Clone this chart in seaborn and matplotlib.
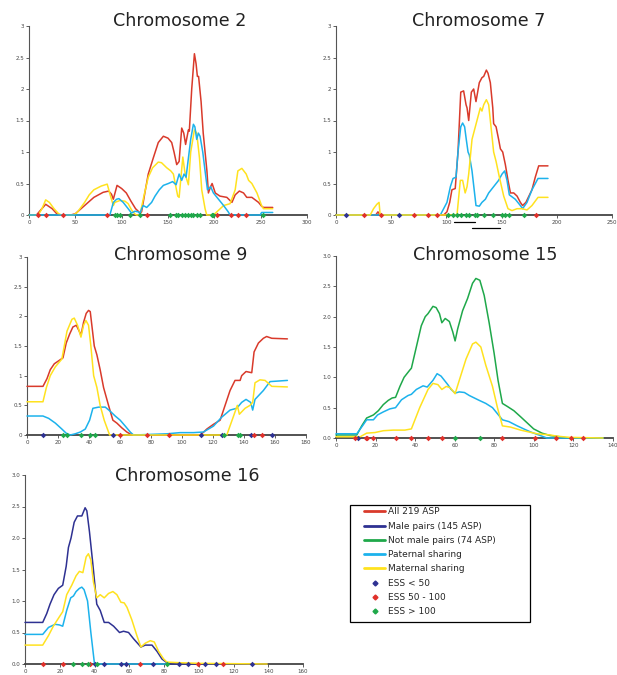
import numpy as np
import pandas as pd
import matplotlib
matplotlib.use('Agg')
import matplotlib.pyplot as plt
import seaborn as sns
from matplotlib.lines import Line2D
from matplotlib.patches import Rectangle

# cores das curvas
RED = '#d93a2b'
NAVY = '#2e3192'
GREEN = '#1fa84a'
CYAN = '#1cb2ec'
YELLOW = '#ffe21f'

# ---- Chromosome 2 ----
chr2_all = [(0, 0), (8, 0), (18, 0.17), (25, 0.1), (30, 0.02), (33, 0), (45, 0), (50, 0.02), (60, 0.15),
            (70, 0.28), (80, 0.36), (86, 0.38), (89, 0.33), (91, 0.25), (95, 0.47), (100, 0.42), (105, 0.35),
            (110, 0.22), (115, 0.1), (120, 0.03), (121.5, 0.05), (125, 0.35), (128.7, 0.65), (134, 0.9),
            (139.5, 1.15), (145, 1.25), (150, 1.22), (154, 1.15), (156.5, 1.0), (159.4, 0.8), (162, 0.85),
            (164.8, 1.38), (167, 1.3), (169, 1.12), (172, 1.35), (173, 1.33), (175.6, 2.0), (178.5, 2.56),
            (180.3, 2.4), (181.7, 2.2), (183, 2.2), (185.7, 1.8), (188, 1.3), (192, 0.7), (193.6, 0.35),
            (196, 0.45), (197.6, 0.5), (201, 0.35), (206, 0.3), (213.5, 0.28), (219, 0.2), (222.5, 0.32),
            (227, 0.38), (231.5, 0.35), (235, 0.28), (240.5, 0.28), (247.7, 0.2), (251, 0.14), (253, 0.12),
            (263, 0.12)]
chr2_mat = [(0, 0), (10, 0), (14, 0.1), (18, 0.24), (22, 0.2), (27, 0.1), (32, 0.02), (35, 0), (48, 0),
            (52, 0.04), (55, 0.1), (60, 0.2), (65, 0.32), (70, 0.4), (78, 0.46), (84.4, 0.49), (88, 0.3),
            (91, 0.15), (92.7, 0.2), (98, 0.23), (103.5, 0.22), (107, 0.18), (110.7, 0.08), (114, 0.02),
            (116, 0), (119.7, 0), (124, 0.3), (128.7, 0.6), (133.4, 0.75), (139.5, 0.84), (143, 0.83),
            (148.6, 0.75), (153, 0.7), (155.8, 0.65), (160.5, 0.3), (162, 0.28), (164, 0.6), (166, 0.92),
            (168, 0.7), (169.5, 0.6), (172, 0.48), (174.5, 1.0), (178.5, 1.35), (181, 1.3), (184, 0.9),
            (186.4, 0.4), (190, 0.1), (191.8, 0), (199, 0), (202.7, 0.05), (210, 0.15), (217, 0.18),
            (222.5, 0.4), (225.4, 0.7), (229.7, 0.74), (234.4, 0.65), (237, 0.55), (240.5, 0.5), (246, 0.35),
            (251, 0.15), (253, 0.1), (263, 0.1)]
chr2_pat = [(0, 0), (87.3, 0), (91, 0.2), (94.5, 0.25), (97, 0.26), (101.7, 0.2), (107, 0.1), (110.7, 0.03),
            (114.3, 0.06), (118, 0.05), (119.7, 0.02), (121.5, 0.1), (123.3, 0.15), (127, 0.12), (132.3, 0.2),
            (136, 0.3), (140.6, 0.4), (145, 0.47), (150.4, 0.5), (155, 0.53), (158.7, 0.48), (162, 0.65),
            (164.8, 0.55), (167.3, 0.65), (169.5, 0.6), (172, 0.9), (174.5, 1.2), (177.4, 1.44), (179, 1.4),
            (181, 1.2), (182.8, 1.3), (184.6, 1.25), (187.5, 1.0), (190, 0.7), (192.6, 0.4), (196, 0.45),
            (199, 0.35), (204.5, 0.25), (210, 0.15), (215, 0.05), (217, 0), (249.5, 0), (251, 0.04), (263, 0.04)]
chr2_ess_low = []
chr2_ess_mid = [10, 18, 37, 84, 127, 203, 218, 225, 234]
chr2_ess_high = [93, 95, 98, 109, 120, 152, 159, 161, 165, 168, 172, 174.5, 177, 181, 184.6, 197, 199, 253]

# ---- Chromosome 7 ----
chr7_all = [(0, 0), (36, 0), (38, 0.05), (40, 0), (97.5, 0), (100.5, 0.05), (103, 0.2), (105, 0.4), (108, 0.42),
            (110.5, 1.0), (113, 1.95), (115.6, 1.97), (117.8, 1.75), (118.7, 1.7), (120.2, 1.5), (122.6, 1.95),
            (124.7, 2.0), (126.8, 1.8), (129.8, 2.1), (132.2, 2.18), (133.8, 2.2), (136.2, 2.3), (137.7, 2.25),
            (139.8, 2.1), (142, 1.7), (142.8, 1.45), (145, 1.4), (147.3, 1.2), (148.9, 1.05), (151, 1.0),
            (153.4, 0.8), (155.8, 0.55), (158, 0.35), (161, 0.35), (164, 0.3), (167, 0.2), (169, 0.15),
            (172, 0.2), (177.5, 0.4), (180.5, 0.6), (183.6, 0.78), (192, 0.78)]
chr7_pat = [(0, 0), (94.5, 0), (97.5, 0.1), (100.5, 0.2), (103.6, 0.45), (106, 0.58), (108.7, 0.6), (110.5, 1.0),
            (113, 1.4), (114.7, 1.46), (116.5, 1.4), (118, 1.2), (119.6, 1.0), (120.8, 0.95), (123.2, 0.7),
            (126.8, 0.15), (129.8, 0.14), (132.2, 0.2), (135.3, 0.25), (138.3, 0.35), (142.8, 0.45),
            (147.3, 0.55), (150.4, 0.65), (152.8, 0.7), (154.9, 0.55), (157, 0.32), (162.4, 0.25), (167, 0.15),
            (169, 0.1), (173, 0.2), (177.5, 0.4), (183, 0.58), (192, 0.58)]
chr7_mat = [(0, 0), (31, 0), (34, 0.1), (37, 0.17), (39, 0.2), (40, 0), (109.6, 0), (112.6, 0.55), (114.7, 0.55),
            (117, 0.35), (118.7, 0.45), (120.2, 0.65), (123.2, 1.2), (126.2, 1.4), (130.7, 1.7), (132.2, 1.65),
            (133.8, 1.75), (136.2, 1.83), (138.3, 1.75), (139.8, 1.5), (142.8, 1.0), (145, 0.85), (148, 0.6),
            (151.9, 0.3), (155.8, 0.1), (159.4, 0.07), (164, 0.1), (168.5, 0.1), (173, 0.08), (177.5, 0.15),
            (183, 0.28), (192, 0.28)]
chr7_ess_low = [9, 57.4]
chr7_ess_mid = [25, 41, 71, 83, 91.5, 181.5]
chr7_ess_high = [101.5, 105.7, 109.6, 113.5, 117.8, 120.2, 126.2, 127.7, 133.8, 142, 150.4, 153.4, 157, 170]
chr7_bars = [(106.6, 126.2), (123, 148.9)]

# ---- Chromosome 9 ----
chr9_all = [(0, 0.82), (10.3, 0.82), (12.9, 0.95), (15, 1.1), (17.6, 1.2), (20.4, 1.25), (23.2, 1.3),
            (25.3, 1.55), (27.5, 1.7), (29.6, 1.82), (31.8, 1.85), (33.7, 1.75), (34.8, 1.68), (36.5, 1.9),
            (38.2, 2.05), (39.7, 2.1), (40.8, 2.08), (43.4, 1.5), (45.1, 1.35), (47.2, 1.1), (49.4, 0.8),
            (52.6, 0.5), (55.4, 0.25), (58, 0.2), (61.2, 0.12), (64.4, 0.05), (67.7, 0), (111.7, 0), (114, 0.05),
            (116, 0.1), (120.3, 0.18), (124.6, 0.25), (127.8, 0.5), (131, 0.75), (134.2, 0.92), (137.5, 0.92),
            (138.5, 1.0), (141.3, 1.07), (145, 1.05), (146.5, 1.4), (149.3, 1.55), (152.5, 1.63), (154.6, 1.66),
            (157.9, 1.63), (168, 1.62)]
chr9_mat = [(0, 0.56), (10.3, 0.56), (12.5, 0.8), (15, 1.0), (18.3, 1.15), (22.5, 1.28), (25.8, 1.75),
            (29, 1.95), (30.5, 1.97), (32.6, 1.85), (34.8, 1.65), (36.5, 1.85), (38, 1.93), (39.7, 1.85),
            (41.2, 1.5), (43, 1.0), (45.1, 0.8), (47.2, 0.5), (49.8, 0.25), (53.3, 0), (128.9, 0), (133, 0.3),
            (135.7, 0.5), (137, 0.35), (140.7, 0.45), (143.9, 0.5), (145.6, 0.55), (147.1, 0.88), (150.3, 0.93),
            (153.6, 0.92), (157.9, 0.82), (168, 0.81)]
chr9_pat = [(0, 0.32), (10.3, 0.32), (14, 0.28), (18.3, 0.2), (22.5, 0.1), (25.3, 0.03), (27.9, 0), (31.1, 0.02),
            (34.4, 0.05), (37.6, 0.1), (40.4, 0.25), (42.5, 0.45), (46.2, 0.47), (50.5, 0.47), (53.7, 0.4),
            (56.9, 0.32), (60.1, 0.25), (63.4, 0.15), (66.6, 0.05), (68.7, 0), (79.5, 0.01), (90.2, 0.02),
            (98.8, 0.04), (107.4, 0.04), (113.8, 0.05), (120.3, 0.15), (125.6, 0.3), (131, 0.42), (135.3, 0.45),
            (138.5, 0.55), (141.3, 0.6), (144.3, 0.55), (145.6, 0.42), (147.1, 0.6), (152.5, 0.75),
            (156.8, 0.9), (168, 0.92)]
chr9_ess_low = [10.3, 55.8, 112.3, 125.6, 144.3, 157.9]
chr9_ess_mid = [60.1, 77.3, 91.9, 146.5, 151.4]
chr9_ess_high = [23.2, 25.8, 34.8, 40.8, 43.6, 127.1, 136.4, 137.5]

# ---- Chromosome 15 ----
chr15_notmale = [(0, 0.05), (10.5, 0.05), (13, 0.2), (15.5, 0.33), (18.9, 0.38), (21.4, 0.45), (23.9, 0.55),
                 (26.4, 0.62), (28.4, 0.66), (30.1, 0.67), (32.3, 0.85), (34.4, 1.0), (37.3, 1.12), (38.1, 1.15),
                 (40.6, 1.5), (43.1, 1.85), (45.1, 2.0), (46.5, 2.05), (49, 2.17), (50.6, 2.15), (52.3, 2.05),
                 (53.5, 1.9), (55.2, 1.97), (57.3, 1.92), (59, 1.75), (60.2, 1.6), (61.5, 1.8), (64, 2.1),
                 (66.5, 2.3), (69, 2.55), (70.7, 2.63), (72.7, 2.6), (74.9, 2.35), (77.4, 1.9), (79.9, 1.4),
                 (81.9, 0.95), (84.1, 0.57), (86.6, 0.52), (89.9, 0.45), (93.3, 0.35), (96.6, 0.25), (99.9, 0.15),
                 (104.1, 0.08), (108.3, 0.04), (113.3, 0.02), (116.7, 0), (135, 0)]
chr15_pat = [(0, 0.07), (10.5, 0.07), (13.4, 0.2), (15.5, 0.3), (18.9, 0.3), (21, 0.38), (23.9, 0.43),
             (27.2, 0.48), (30.1, 0.5), (33.1, 0.63), (36.4, 0.7), (38.1, 0.72), (40.6, 0.8), (44, 0.86),
             (46.1, 0.84), (49, 0.95), (51.1, 1.06), (53.1, 1.02), (54.8, 0.95), (56.5, 0.88), (58.2, 0.8),
             (60.2, 0.74), (62.3, 0.76), (64.9, 0.75), (67.4, 0.7), (69.9, 0.66), (72.4, 0.62), (75.7, 0.57),
             (79.1, 0.5), (81.6, 0.4), (84.1, 0.3), (87.4, 0.27), (91.6, 0.2), (94.9, 0.15), (98.3, 0.1),
             (103.3, 0.04), (106.6, 0), (135, 0)]
chr15_mat = [(0, 0.02), (12.2, 0.02), (15.5, 0.08), (19.7, 0.09), (23.9, 0.12), (28.9, 0.13), (34.8, 0.13),
             (38.1, 0.15), (42.3, 0.5), (46.5, 0.8), (49, 0.9), (51.5, 0.88), (53.5, 0.8), (55.7, 0.85),
             (57.7, 0.83), (60.2, 0.73), (62.3, 0.95), (65.7, 1.3), (69, 1.55), (70.7, 1.58), (73.2, 1.5),
             (75.7, 1.2), (79.1, 0.85), (81.6, 0.5), (84.1, 0.2), (88.2, 0.18), (93.3, 0.13), (97.4, 0.1),
             (101.6, 0.07), (108.3, 0.05), (111.7, 0.03), (118.3, 0.01), (135, 0)]
chr15_ess_low = [11]
chr15_ess_mid = [9.7, 15.2, 15.9, 18.9, 30.1, 38.1, 46.5, 53.7, 84.1, 100.8, 111.1, 118.7, 125]
chr15_ess_high = [60.3, 72.7]

# ---- Chromosome 16 ----
chr16_male = [(0, 0.66), (10.2, 0.66), (12.5, 0.8), (14.4, 0.95), (16.7, 1.1), (19.2, 1.2), (21.7, 1.25),
              (23.7, 1.55), (25, 1.85), (26.5, 2.0), (28.3, 2.25), (30.2, 2.35), (32.7, 2.35), (34.6, 2.48),
              (35.6, 2.43), (37.1, 2.1), (39, 1.6), (41.3, 0.95), (43.3, 0.85), (45.6, 0.66), (48.1, 0.66),
              (51, 0.6), (54.4, 0.5), (56.7, 0.52), (59.6, 0.5), (62.5, 0.4), (66.7, 0.27), (69.2, 0.3),
              (73.1, 0.3), (76, 0.2), (78.8, 0.08), (81.7, 0.02), (83.7, 0), (139.4, 0)]
chr16_mat = [(0, 0.3), (10.2, 0.3), (13.5, 0.45), (16.3, 0.6), (19.8, 0.75), (21.7, 0.83), (24, 1.1),
             (26.9, 1.25), (29.4, 1.4), (31.3, 1.47), (33.3, 1.45), (35.2, 1.7), (36.5, 1.75), (37.9, 1.65),
             (39.4, 1.3), (41.3, 1.05), (43.3, 1.1), (45.6, 1.05), (48.1, 1.12), (50.6, 1.15), (52.9, 1.1),
             (55.2, 0.98), (57.1, 0.97), (58.7, 0.9), (61.5, 0.7), (64.4, 0.45), (66.7, 0.27), (69.2, 0.33),
             (72.1, 0.37), (74.4, 0.35), (76.9, 0.2), (79.8, 0.08), (81.7, 0.03), (89.4, 0.02), (101, 0.01),
             (139.4, 0)]
chr16_pat = [(0, 0.47), (10.2, 0.47), (13.5, 0.58), (17.3, 0.63), (19.8, 0.62), (21.7, 0.6), (24, 0.85),
             (26.3, 1.05), (27.9, 1.08), (29.4, 1.15), (31.3, 1.2), (32.7, 1.22), (34, 1.18), (36, 1.0),
             (37.9, 0.5), (40, 0), (82.7, 0)]
chr16_ess_low = [40.4, 45.6, 55.2, 58.3, 73.7, 88.8, 93.8, 103.8, 110.2, 130.8]
chr16_ess_mid = [10.2, 21.7, 37.5, 66.3, 99.4, 114]
chr16_ess_high = [27.5, 32.7, 36, 41.3, 81.7]

yticks = [0, 0.5, 1, 1.5, 2, 2.5, 3]
ylabels_a = ['0', '0.5', '1', '1.5', '2', '2.5', '3']
ylabels_b = ['0.0', '0.5', '1.0', '1.5', '2.0', '2.5', '3.0']

legend_labels = ['All 219 ASP', 'Male pairs (145 ASP)', 'Not male pairs (74 ASP)', 'Paternal sharing',
                 'Maternal sharing', 'ESS < 50', 'ESS 50 - 100', 'ESS > 100']

sns.set_style('white')
plt.rcParams['font.family'] = ['DejaVu Sans']

W, H = 617, 675
fig = plt.figure(figsize=(W / 100, H / 100), dpi=100)


def painel(rect, titulo, tx, ty, curvas, ess, xmax, xstep, ylabels):
    l, t, r, b = rect
    ax = fig.add_axes([l / W, 1 - b / H, (r - l) / W, (b - t) / H])
    for pts, cor in curvas:
        d = pd.DataFrame(pts, columns=['pos', 'lod'])
        sns.lineplot(data=d, x='pos', y='lod', color=cor, lw=1.1, estimator=None, sort=False,
                     ax=ax, clip_on=False, zorder=3)
    for pos, cor in zip(ess, [NAVY, '#e0302a', GREEN]):
        if len(pos) == 0:
            continue
        d = pd.DataFrame({'pos': pos, 'lod': np.zeros(len(pos))})
        sns.scatterplot(data=d, x='pos', y='lod', color=cor, marker='D', s=8, linewidth=0,
                        ax=ax, clip_on=False, zorder=5)
    ax.set_xlim(0, xmax)
    ax.set_ylim(0, 3)
    ax.set_xticks(np.arange(0, xmax + 1, xstep))
    ax.set_yticks(yticks)
    ax.set_yticklabels(ylabels)
    ax.set_xlabel('')
    ax.set_ylabel('')
    sns.despine(ax=ax)
    ax.spines['left'].set_color('#555555')
    ax.spines['left'].set_linewidth(0.8)
    ax.spines['bottom'].set_color('#444444')
    ax.spines['bottom'].set_linewidth(1.3)
    ax.tick_params(axis='both', length=2, width=0.6, labelsize=4, colors='#444444', pad=1.5,
                   bottom=True, left=True)
    ax.text(tx, ty, titulo, transform=ax.transAxes, ha='center', va='baseline',
            fontsize=12.6, color='#222222')
    return ax


painel((29, 26, 307, 215), 'Chromosome 2', 0.543, 1.0,
       [(chr2_all, RED), (chr2_mat, YELLOW), (chr2_pat, CYAN)],
       [chr2_ess_low, chr2_ess_mid, chr2_ess_high], 300, 50, ylabels_a)

ax7 = painel((336, 26, 612, 215), 'Chromosome 7', 0.517, 1.0,
             [(chr7_all, RED), (chr7_pat, CYAN), (chr7_mat, YELLOW)],
             [chr7_ess_low, chr7_ess_mid, chr7_ess_high], 250, 50, ylabels_a)
for (x0, x1), yy in zip(chr7_bars, [-0.037, -0.069]):
    ax7.plot([x0, x1], [yy, yy], color='black', lw=0.9, clip_on=False,
             transform=ax7.get_xaxis_transform())

painel((27, 257, 306, 435), 'Chromosome 9', 0.551, 0.983,
       [(chr9_all, RED), (chr9_pat, CYAN), (chr9_mat, YELLOW)],
       [chr9_ess_low, chr9_ess_mid, chr9_ess_high], 180, 20, ylabels_a)

painel((336, 256, 613, 438), 'Chromosome 15', 0.538, 0.978,
       [(chr15_notmale, GREEN), (chr15_pat, CYAN), (chr15_mat, YELLOW)],
       [chr15_ess_low, chr15_ess_mid, chr15_ess_high], 140, 20, ylabels_b)

painel((25, 475, 303, 664), 'Chromosome 16', 0.582, 0.97,
       [(chr16_male, NAVY), (chr16_pat, CYAN), (chr16_mat, YELLOW)],
       [chr16_ess_low, chr16_ess_mid, chr16_ess_high], 160, 20, ylabels_b)

# legenda: caixa desenhada a parte, com a legenda sem moldura dentro
fig.patches.append(Rectangle((350 / W, 1 - 622 / H), 180 / W, 117 / H, transform=fig.transFigure,
                             fill=False, edgecolor='black', lw=0.9))
handles = [Line2D([], [], color=c, lw=2) for c in [RED, NAVY, GREEN, CYAN, YELLOW]]
handles += [Line2D([], [], color=c, marker='D', markersize=2.5, lw=0) for c in [NAVY, '#e0302a', GREEN]]
fig.legend(handles, legend_labels, loc='upper left', bbox_to_anchor=(364 / W, 1 - 507.5 / H),
           frameon=False, fontsize=6.5, handlelength=2.33, handletextpad=0.33,
           labelspacing=0.58, borderpad=0, borderaxespad=0)

fig.savefig('out.png', dpi=100)
